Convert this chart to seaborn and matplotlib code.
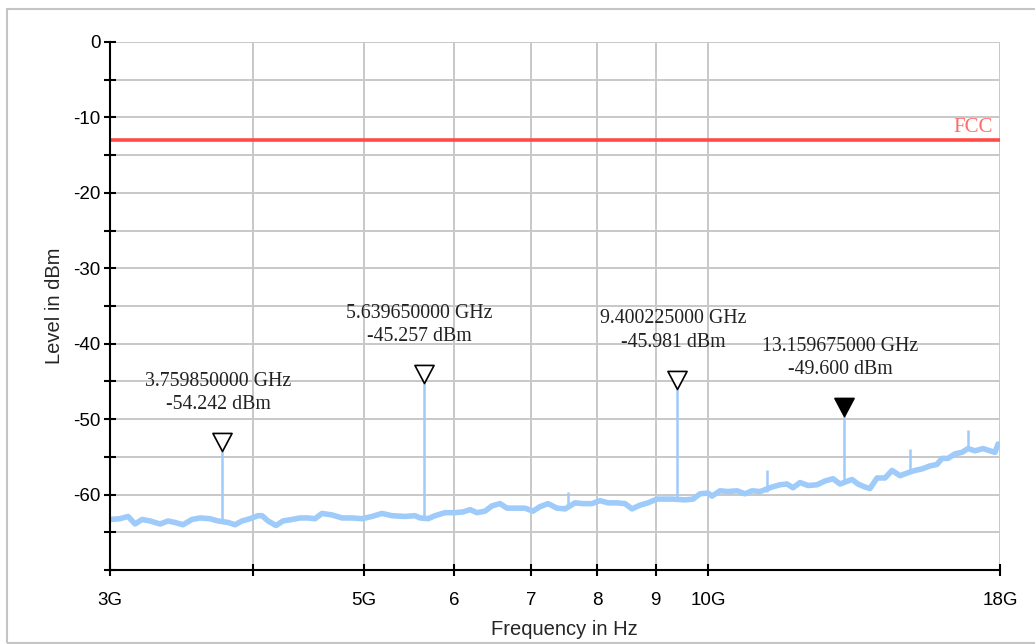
import matplotlib
matplotlib.use("Agg")
import matplotlib.pyplot as plt
from matplotlib.path import Path
from matplotlib.patches import Rectangle
import seaborn as sns
import pandas as pd

# ---- data (frequency in GHz, level in dBm) ----
trace_freq = [3.000, 3.061, 3.111, 3.155, 3.200, 3.252, 3.318, 3.372, 3.419, 3.475,
              3.538, 3.596, 3.669, 3.729, 3.805, 3.859, 3.913, 3.977, 4.041, 4.074,
              4.124, 4.190, 4.250, 4.328, 4.398, 4.469, 4.533, 4.597, 4.690, 4.786,
              4.883, 4.983, 5.084, 5.187, 5.293, 5.433, 5.544, 5.600, 5.691, 5.772,
              5.889, 6.009, 6.106, 6.193, 6.281, 6.383, 6.473, 6.578, 6.672, 6.780,
              6.918, 7.030, 7.130, 7.246, 7.378, 7.498, 7.651, 7.775, 7.917, 8.045,
              8.176, 8.325, 8.461, 8.581, 8.720, 8.861, 9.023, 9.170, 9.319, 9.547,
              9.702, 9.840, 10.000, 10.080, 10.244, 10.410, 10.601, 10.773, 10.926, 11.103,
              11.375, 11.559, 11.723, 11.866, 12.034, 12.229, 12.453, 12.655, 12.861, 13.043,
              13.362, 13.524, 13.716, 13.855, 14.052, 14.280, 14.483, 14.718, 14.957, 15.169,
              15.384, 15.634, 15.856, 16.016, 16.211, 16.441, 16.675, 16.877, 17.117, 17.394,
              17.641, 17.820, 17.930, 18.000]
trace_level = [-63.3, -63.2, -62.9, -63.9, -63.3, -63.5, -63.9, -63.5, -63.7, -64.0,
               -63.3, -63.1, -63.2, -63.5, -63.7, -64.0, -63.5, -63.2, -62.8, -62.8,
               -63.5, -64.1, -63.5, -63.3, -63.1, -63.1, -63.2, -62.5, -62.7, -63.1,
               -63.1, -63.2, -62.9, -62.5, -62.8, -62.9, -62.8, -63.1, -63.2, -62.8,
               -62.4, -62.4, -62.3, -62.0, -62.4, -62.2, -61.5, -61.2, -61.8, -61.8,
               -61.8, -62.2, -61.6, -61.2, -61.8, -61.9, -61.1, -61.2, -61.2, -60.8,
               -61.1, -61.1, -61.2, -61.9, -61.4, -61.1, -60.6, -60.6, -60.6, -60.7,
               -60.6, -59.9, -59.8, -60.2, -59.5, -59.6, -59.5, -59.9, -59.5, -59.6,
               -59.0, -58.7, -58.6, -59.1, -58.4, -58.8, -58.7, -58.2, -57.9, -58.6,
               -58.0, -58.6, -59.0, -59.2, -57.8, -57.8, -56.8, -57.5, -57.1, -56.8,
               -56.6, -56.2, -56.0, -55.2, -55.2, -54.6, -54.4, -53.9, -54.2, -53.9,
               -54.2, -54.4, -53.3, -53.5]

# narrow spikes: frequency, peak level, level of the trace at their foot
spike_freq = [3.759850, 5.639650, 7.543, 9.400225, 11.261, 13.159675, 15.017, 16.877]
spike_peak = [-54.242, -45.257, -59.6, -45.981, -56.7, -49.600, -53.9, -51.4]
spike_base = [-63.6, -63.1, -61.9, -60.6, -59.6, -58.4, -57.0, -54.0]

# markers
marker_freq = [3.759850, 5.639650, 9.400225, 13.159675]
marker_level = [-54.242, -45.257, -45.981, -49.600]
marker_text = ["3.759850000 GHz\n-54.242 dBm",
               "5.639650000 GHz\n-45.257 dBm",
               "9.400225000 GHz\n-45.981 dBm",
               "13.159675000 GHz\n-49.600 dBm"]
marker_filled = [False, False, False, True]

fcc_level = -13.0
fcc_label = "FCC"

x_ticks = [3, 4, 5, 6, 7, 8, 9, 10, 18]
x_ticklabels = ["3G", "", "5G", "6", "7", "8", "9", "10G", "18G"]
y_ticks = [0, -5, -10, -15, -20, -25, -30, -35, -40, -45, -50, -55, -60, -65, -70]
y_ticklabels = ["0", "", "-10", "", "-20", "", "-30", "", "-40", "", "-50", "", "-60", "", ""]

# ---- style ----
sns.set_style("white")
plt.rcParams["font.family"] = ["Liberation Sans", "DejaVu Sans"]

W, H = 1035, 644
fig = plt.figure(figsize=(W / 100, H / 100), dpi=100)
ax = fig.add_axes([110 / W, 1 - 570 / H, 890 / W, 528 / H])

df = pd.DataFrame({"freq": trace_freq, "level": trace_level})
sns.lineplot(data=df, x="freq", y="level", ax=ax, color="#9ecbfa",
             linewidth=4.0, estimator=None, zorder=3)

ax.vlines(spike_freq, spike_base, spike_peak, color="#9ecbfa", linewidth=1.8, zorder=3)

ax.axhline(fcc_level, color="#ff4a4a", linewidth=2.6, zorder=4)
ax.annotate(fcc_label, xy=(18, fcc_level), xytext=(-5, 2), textcoords="offset points",
            ha="right", va="bottom", color="#ff6b6b", fontsize=15,
            family=["Liberation Serif", "DejaVu Serif"])

tri = Path([(-0.53, 1.0), (0.53, 1.0), (0.0, 0.0), (-0.53, 1.0)],
           [Path.MOVETO, Path.LINETO, Path.LINETO, Path.CLOSEPOLY])
for f, lv, t, filled in zip(marker_freq, marker_level, marker_text, marker_filled):
    ax.scatter([f], [lv], marker=tri, s=26 ** 2,
               facecolor="black" if filled else "white",
               edgecolor="black", linewidth=1.2, zorder=6)
    ax.annotate(t, xy=(f, lv), xytext=(-3, 42), textcoords="offset points",
                ha="center", va="center", multialignment="center",
                fontsize=14.3, linespacing=1.3, color="#222222",
                family=["Liberation Serif", "DejaVu Serif"], zorder=7)

ax.set_xscale("log")
ax.set_xlim(3, 18)
ax.set_ylim(-70, 0)
ax.set_xticks(x_ticks)
ax.set_xticklabels(x_ticklabels)
ax.xaxis.set_minor_locator(matplotlib.ticker.NullLocator())
ax.set_yticks(y_ticks)
ax.set_yticklabels(y_ticklabels)

ax.grid(True, color="#c8c8c8", linewidth=1.4, zorder=0)
ax.set_axisbelow(True)
for s in ["top", "right"]:
    ax.spines[s].set_visible(False)
for s in ["left", "bottom"]:
    ax.spines[s].set_color("black")
    ax.spines[s].set_linewidth(1.5)
    ax.spines[s].set_zorder(5)

ax.tick_params(axis="both", which="major", direction="inout", length=8, width=1.5,
               color="black", labelsize=13.5, labelcolor="black",
               bottom=True, left=True, top=False, right=False)
ax.tick_params(axis="y", pad=3)
ax.tick_params(axis="x", pad=12)

ax.set_xlabel("Frequency in Hz", fontsize=14.5)
ax.set_ylabel("Level in dBm", fontsize=14.5, va="center")
ax.xaxis.set_label_coords(0.511, -0.094)
ax.yaxis.set_label_coords(-0.062, 0.5)

fig.patches.append(Rectangle((7 / W, 1 - 643 / H), 1.2, (643 - 9) / H,
                             transform=fig.transFigure, fill=False,
                             edgecolor="#c4c4c4", linewidth=1.5, zorder=0))

fig.savefig("out.png", dpi=100)
